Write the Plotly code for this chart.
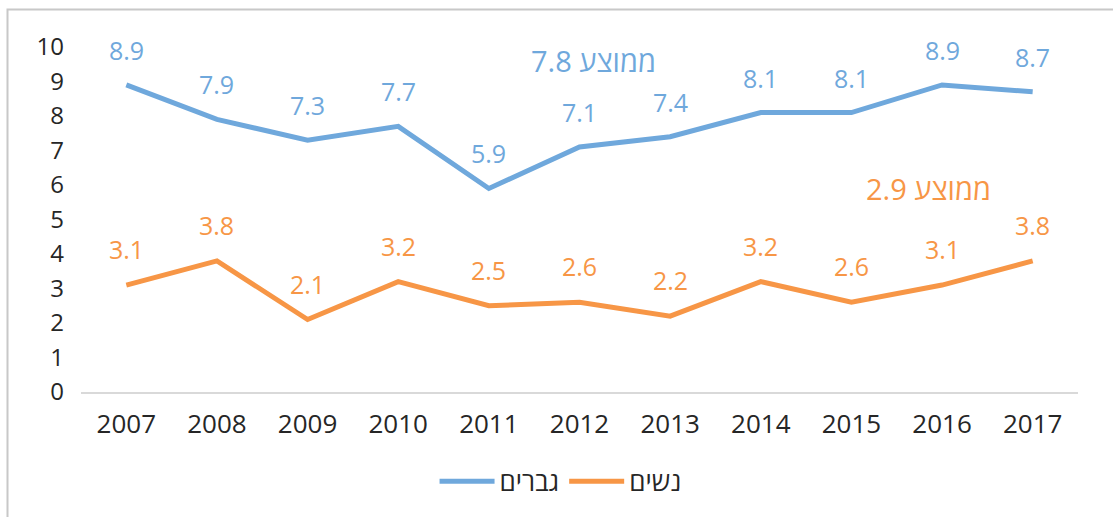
import plotly.graph_objects as go

years = ["2007", "2008", "2009", "2010", "2011", "2012", "2013", "2014", "2015", "2016", "2017"]
men = [8.9, 7.9, 7.3, 7.7, 5.9, 7.1, 7.4, 8.1, 8.1, 8.9, 8.7]
women = [3.1, 3.8, 2.1, 3.2, 2.5, 2.6, 2.2, 3.2, 2.6, 3.1, 3.8]
series_names = ["גברים", "נשים"]
avg_labels = ["ממוצע 7.8", "ממוצע 2.9"]

BLUE = "#6FA8DC"
ORANGE = "#F79646"
FONT = "Open Sans, DejaVu Sans, sans-serif"

fig = go.Figure()
fig.add_trace(go.Scatter(x=years, y=men, mode="lines", name=series_names[0],
                         line=dict(color=BLUE, width=5)))
fig.add_trace(go.Scatter(x=years, y=women, mode="lines", name=series_names[1],
                         line=dict(color=ORANGE, width=5)))

annotations = []
for i, v in enumerate(men):
    annotations.append(dict(x=i, y=v, text=f"{v:.1f}", showarrow=False, yshift=35,
                            font=dict(color=BLUE, size=25, family=FONT)))
for i, v in enumerate(women):
    annotations.append(dict(x=i, y=v, text=f"{v:.1f}", showarrow=False, yshift=36,
                            font=dict(color=ORANGE, size=25, family=FONT)))
annotations.append(dict(x=5.15, y=9.6, xref="x", yref="y", text=avg_labels[0], showarrow=False,
                        font=dict(color=BLUE, size=29, family=FONT)))
annotations.append(dict(x=8.85, y=5.9, xref="x", yref="y", text=avg_labels[1], showarrow=False,
                        font=dict(color=ORANGE, size=29, family=FONT)))

fig.update_layout(
    width=1113, height=517,
    margin=dict(l=81, r=35, t=47, b=125, autoexpand=False),
    paper_bgcolor="white", plot_bgcolor="white",
    font=dict(family=FONT, size=25, color="#262626"),
    showlegend=True,
    legend=dict(orientation="h", x=0.481, xanchor="center", y=-0.191, yanchor="top",
                font=dict(size=26, color="#262626"), itemwidth=55),
    annotations=annotations,
    xaxis=dict(type="category", range=[-0.5, len(years) - 0.5], autorange=False, automargin=False,
               showgrid=False, showline=True, linecolor="#D9D9D9", linewidth=2,
               ticks="", ticklabelstandoff=8, tickfont=dict(size=26)),
    yaxis=dict(range=[0, 10], autorange=False, automargin=False, dtick=1, showgrid=False,
               zeroline=False, showline=False,
               ticks="", ticklabelstandoff=16, tickfont=dict(size=24)),
    shapes=[dict(type="rect", xref="paper", yref="paper",
                 x0=(7.5 - 81) / 997, x1=(1125 - 81) / 997,
                 y0=(392 - 530) / 345, y1=(392 - 9.5) / 345,
                 line=dict(color="#C8C8C8", width=2), fillcolor="rgba(0,0,0,0)", layer="below")],
)

fig.write_html("out.html")
